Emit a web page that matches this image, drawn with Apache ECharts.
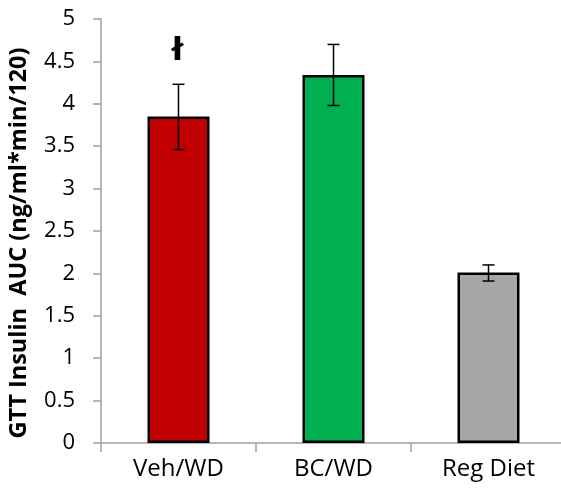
<!DOCTYPE html>
<html>
<head>
<meta charset="utf-8">
<script src="https://cdn.jsdelivr.net/npm/echarts@6/dist/echarts.min.js"></script>
<style>html,body{margin:0;padding:0;background:#fff}#c{width:561px;height:489px}</style>
</head>
<body>
<div id="c"></div>
<script>
const categories = ['Veh/WD', 'BC/WD', 'Reg Diet'];
const means = [3.85, 4.34, 2.01];
const errUpper = [4.23, 4.70, 2.10];
const errLower = [3.46, 3.98, 1.91];
const marks = ['ł', '', ''];
const barColors = ['#C00000', '#00B050', '#A6A6A6'];
const yMin = 0, yMax = 5, yStep = 0.5;

const FONT = 'Open Sans';
const chart = echarts.init(document.getElementById('c'));
chart.setOption({
  animation: false,
  grid: { left: 101, right: -5, top: 19, bottom: 46, containLabel: false, outerBoundsMode: 'none' },
  xAxis: {
    type: 'category',
    data: categories,
    axisLine: { lineStyle: { color: '#a0a0a0', width: 1.5 } },
    axisTick: { show: true, length: 9, lineStyle: { color: '#a0a0a0', width: 1.5 } },
    axisLabel: { color: '#000', fontSize: 24, fontFamily: FONT, margin: 14 }
  },
  yAxis: {
    type: 'value',
    min: yMin, max: yMax, interval: yStep,
    name: 'GTT Insulin  AUC (ng/ml*min/120)',
    nameLocation: 'middle',
    nameGap: 70,
    nameTextStyle: { color: '#000', fontSize: 23.5, fontWeight: 'bold', fontFamily: FONT, padding: [0, 24, 0, 0] },
    splitLine: { show: false },
    axisLine: { show: true, lineStyle: { color: '#a0a0a0', width: 1.5 } },
    axisTick: { show: true, length: 8, lineStyle: { color: '#a0a0a0', width: 1.5 } },
    axisLabel: { color: '#000', fontSize: 22, fontFamily: FONT, margin: 26 }
  },
  series: [
    {
      type: 'bar',
      barWidth: '40%',
      data: means.map((v, i) => ({ value: v, itemStyle: { color: barColors[i] } })),
      itemStyle: { borderColor: '#000', borderWidth: 2.5 }
    },
    {
      type: 'custom',
      data: categories.map((c, i) => [i, errLower[i], errUpper[i]]),
      z: 10,
      renderItem: function (params, api) {
        const i = api.value(0);
        const lo = api.coord([i, api.value(1)]);
        const hi = api.coord([i, api.value(2)]);
        const hw = 6;
        const style = { stroke: '#000', lineWidth: 1.5 };
        const children = [
          { type: 'line', shape: { x1: hi[0], y1: hi[1], x2: lo[0], y2: lo[1] }, style },
          { type: 'line', shape: { x1: hi[0] - hw, y1: hi[1], x2: hi[0] + hw, y2: hi[1] }, style },
          { type: 'line', shape: { x1: lo[0] - hw, y1: lo[1], x2: lo[0] + hw, y2: lo[1] }, style }
        ];
        if (marks[i]) {
          children.push({
            type: 'text',
            style: {
              text: marks[i], x: hi[0] - 1, y: hi[1] - 33,
              align: 'center', verticalAlign: 'middle',
              fontSize: 32, fontWeight: 'bold', fontFamily: 'DejaVu Sans', fill: '#000'
            }
          });
        }
        return { type: 'group', children };
      }
    }
  ]
});
</script>
</body>
</html>
